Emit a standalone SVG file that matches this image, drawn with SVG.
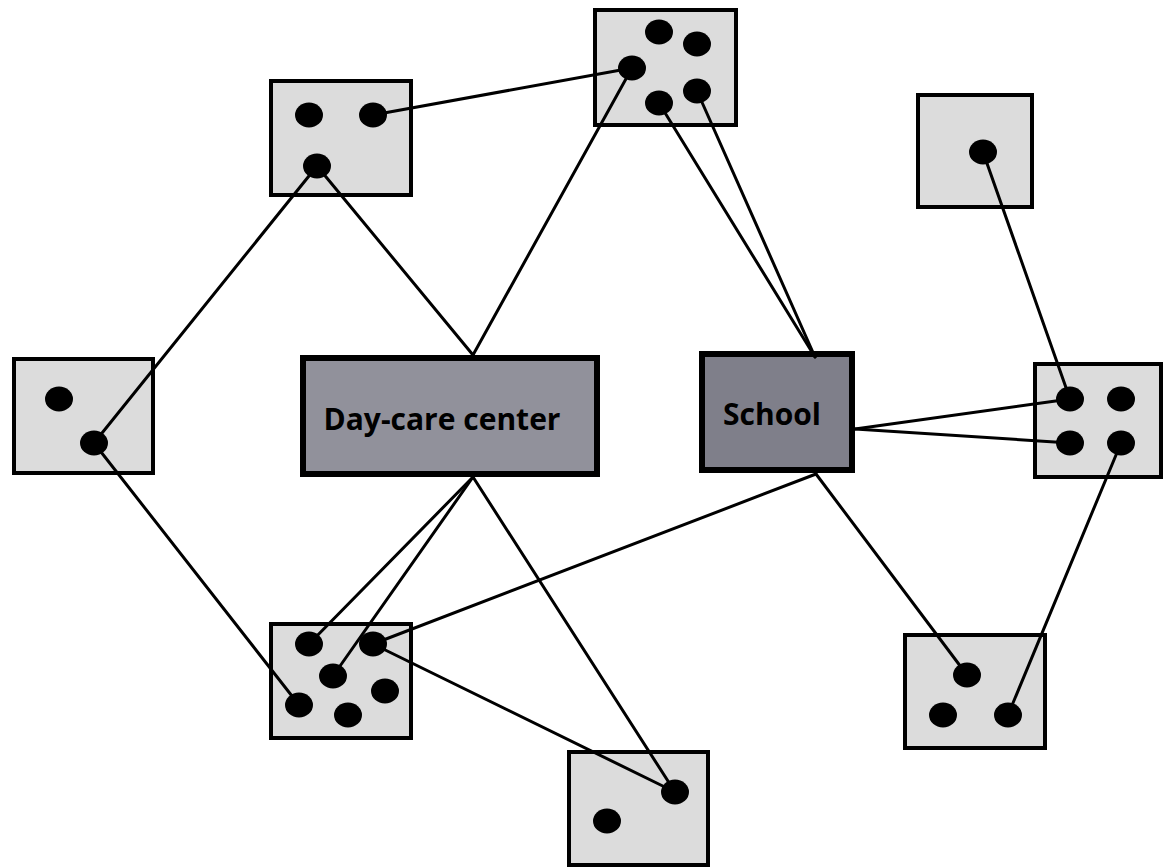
<svg xmlns="http://www.w3.org/2000/svg" width="1164" height="868" viewBox="0 0 1164 868">
<style>
.box{fill:#dcdcdc;stroke:#000;stroke-width:4}
.hub{stroke:#000;stroke-width:6}
.dot{fill:#000}
.ln{stroke:#000;stroke-width:3;fill:none;stroke-linecap:round}
.lbl{font-family:"Open Sans","Liberation Sans",sans-serif;font-weight:bold;font-size:30px;fill:#000}
</style>
<rect width="1164" height="868" fill="#fff"/>
<g id="nodeA">
<rect class="box" x="271" y="81" width="140" height="114"/>
<ellipse class="dot" cx="309" cy="115" rx="14" ry="12.5"/>
<ellipse class="dot" cx="373" cy="115" rx="14" ry="12.5"/>
<ellipse class="dot" cx="317" cy="166" rx="14" ry="12.5"/>
</g>
<g id="nodeB">
<rect class="box" x="595" y="10" width="141" height="115"/>
<ellipse class="dot" cx="659" cy="32" rx="14" ry="12.5"/>
<ellipse class="dot" cx="697" cy="44" rx="14" ry="12.5"/>
<ellipse class="dot" cx="632" cy="68" rx="14" ry="12.5"/>
<ellipse class="dot" cx="659" cy="103" rx="14" ry="12.5"/>
<ellipse class="dot" cx="697" cy="91" rx="14" ry="12.5"/>
</g>
<g id="nodeC">
<rect class="box" x="918" y="95" width="114" height="112"/>
<ellipse class="dot" cx="983" cy="152" rx="14" ry="12.5"/>
</g>
<g id="nodeD">
<rect class="box" x="14" y="359" width="139" height="114"/>
<ellipse class="dot" cx="59" cy="399" rx="14" ry="12.5"/>
<ellipse class="dot" cx="94" cy="443" rx="14" ry="12.5"/>
</g>
<g id="daycare">
<rect class="hub" x="303" y="358" width="294" height="116" fill="#91919b"/>
<text class="lbl" x="442" y="430" text-anchor="middle">Day-care center</text>
</g>
<g id="school">
<rect class="hub" x="702" y="354" width="150" height="116" fill="#7f7f8a"/>
<text class="lbl" x="772" y="425" text-anchor="middle">School</text>
</g>
<g id="nodeG">
<rect class="box" x="1035" y="364" width="126" height="113"/>
<ellipse class="dot" cx="1070" cy="399" rx="14" ry="12.5"/>
<ellipse class="dot" cx="1121" cy="399" rx="14" ry="12.5"/>
<ellipse class="dot" cx="1070" cy="443" rx="14" ry="12.5"/>
<ellipse class="dot" cx="1121" cy="443" rx="14" ry="12.5"/>
</g>
<g id="nodeE">
<rect class="box" x="271" y="624" width="140" height="114"/>
<ellipse class="dot" cx="309" cy="644" rx="14" ry="12.5"/>
<ellipse class="dot" cx="373" cy="644" rx="14" ry="12.5"/>
<ellipse class="dot" cx="333" cy="676" rx="14" ry="12.5"/>
<ellipse class="dot" cx="385" cy="691" rx="14" ry="12.5"/>
<ellipse class="dot" cx="299" cy="705" rx="14" ry="12.5"/>
<ellipse class="dot" cx="348" cy="715" rx="14" ry="12.5"/>
</g>
<g id="nodeF">
<rect class="box" x="569" y="752" width="139" height="113"/>
<ellipse class="dot" cx="675" cy="792" rx="14" ry="12.5"/>
<ellipse class="dot" cx="607" cy="821" rx="14" ry="12.5"/>
</g>
<g id="nodeH">
<rect class="box" x="905" y="635" width="140" height="113"/>
<ellipse class="dot" cx="967" cy="675" rx="14" ry="12.5"/>
<ellipse class="dot" cx="943" cy="715" rx="14" ry="12.5"/>
<ellipse class="dot" cx="1008" cy="715" rx="14" ry="12.5"/>
</g>
<g id="connectors">
<line class="ln" x1="373" y1="115" x2="632" y2="68"/>
<line class="ln" x1="317" y1="166" x2="94" y2="443"/>
<line class="ln" x1="317" y1="166" x2="473" y2="355"/>
<line class="ln" x1="632" y1="68" x2="473" y2="355"/>
<line class="ln" x1="659" y1="103" x2="815" y2="357"/>
<line class="ln" x1="697" y1="91" x2="815" y2="357"/>
<line class="ln" x1="983" y1="152" x2="1070" y2="399"/>
<line class="ln" x1="855" y1="429" x2="1070" y2="399"/>
<line class="ln" x1="855" y1="429" x2="1070" y2="443"/>
<line class="ln" x1="1121" y1="443" x2="1008" y2="715"/>
<line class="ln" x1="816" y1="474" x2="967" y2="675"/>
<line class="ln" x1="816" y1="474" x2="373" y2="644"/>
<line class="ln" x1="473" y1="477" x2="309" y2="644"/>
<line class="ln" x1="473" y1="477" x2="333" y2="676"/>
<line class="ln" x1="473" y1="477" x2="675" y2="792"/>
<line class="ln" x1="94" y1="443" x2="299" y2="705"/>
<line class="ln" x1="373" y1="644" x2="675" y2="792"/>
</g>
</svg>
